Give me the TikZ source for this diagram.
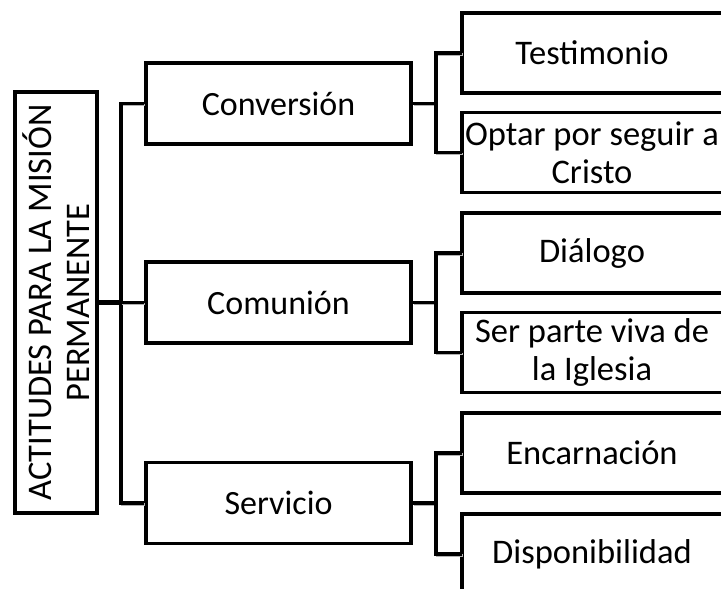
\documentclass[tikz,border=0pt]{standalone}
\usepackage{fontspec}
\setmainfont{Carlito}
\usetikzlibrary{calc}
\begin{document}
\begin{tikzpicture}[x=1pt,y=-1pt,
  boxline/.style={line width=3.5pt, draw=black},
  wire/.style={line width=3.5pt, draw=black,
    preaction={draw=black!30, line width=2.5pt,
      transform canvas={shift={(0.8pt,-1.5pt)}}}},
  rootbox/.style={boxline, rotate=90, minimum width=421pt, minimum height=82pt,
    inner sep=0pt, align=center, font=\fontsize{34.5}{38}\selectfont},
  midbox/.style={boxline, minimum width=265pt, minimum height=81pt,
    inner sep=0pt, font=\fontsize{34}{39}\selectfont},
  leafbox/.style={minimum width=260pt, minimum height=80pt, inner sep=0pt,
    align=center, font=\fontsize{34.5}{38}\selectfont}]
\useasboundingbox (0,0) rectangle (721,589);
\clip (0,0) rectangle (721,589);

% root, rotated
\node[rootbox] (root) at (56,302.5) {ACTITUDES PARA LA MISIÓN\\PERMANENTE};

% second level
\node[midbox] (conv) at (278.5,103.5) {Conversión};
\node[midbox] (comm) at (278.5,302.5) {Comunión};
\node[midbox] (serv) at (278.5,503) {Servicio};

% third level (boxes run off the right edge)
\node[leafbox] (t1) at (592,53)    {Testimonio};
\node[leafbox] (t2) at (592,152.5) {Optar por seguir a\\Cristo};
\node[leafbox] (d1) at (592,253)   {Diálogo};
\node[leafbox] (d2) at (592,352.5) {Ser parte viva de\\la Iglesia};
\node[leafbox] (s1) at (592,453)   {Encarnación};
\node[leafbox] (s2) at (592,554)   {Disponibilidad};
\foreach \n in {t1,t2,d1,d2,s1,s2}
  \draw[boxline] ($(\n.north east)+(14,0)$) -| (\n.south west)
                 -- ($(\n.south east)+(14,0)$);

% trunk lines
\coordinate (trunk) at (121,0);
\coordinate (sub) at (436,0);

\draw[wire, line width=5pt] (root.south) -- (root.south -| trunk);
\draw[wire] (conv.west) -- (conv.west -| trunk) |- (serv.west);
\draw[wire] (comm.west) -- (comm.west -| trunk);

\draw[wire] (conv.east) -- (conv.east -| sub);
\draw[wire] (t1.west) -- (t1.west -| sub) |- (t2.west);
\draw[wire] (comm.east) -- (comm.east -| sub);
\draw[wire] (d1.west) -- (d1.west -| sub) |- (d2.west);
\draw[wire] (serv.east) -- (serv.east -| sub);
\draw[wire] (s1.west) -- (s1.west -| sub) |- (s2.west);
\end{tikzpicture}
\end{document}
